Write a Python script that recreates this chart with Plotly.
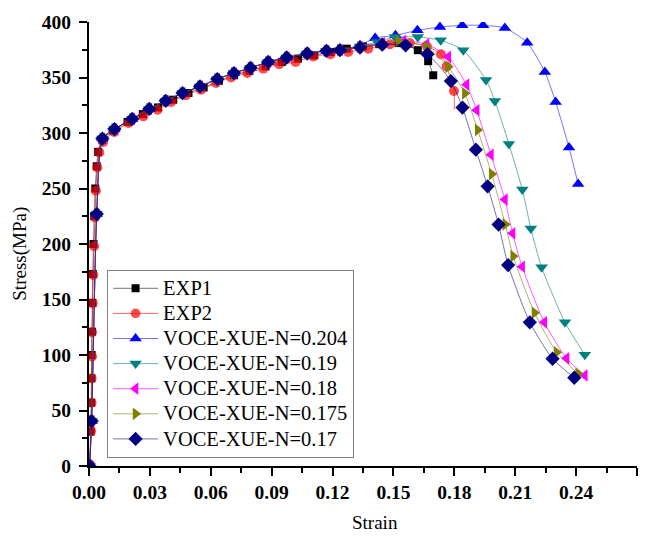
import plotly.graph_objects as go

# ---- experimental curves ----
exp1_strain = [0.0003, 0.0008, 0.0011, 0.0012, 0.0013, 0.0015, 0.0017, 0.0019, 0.0022, 0.0026,
               0.0031, 0.0038, 0.0045, 0.0065, 0.012, 0.019, 0.0265, 0.034, 0.0415, 0.049,
               0.0565, 0.064, 0.0715, 0.079, 0.087, 0.095, 0.103, 0.111, 0.119, 0.127,
               0.135, 0.143, 0.1525, 0.162, 0.1671, 0.1696]
exp1_stress = [0, 31, 57, 79, 100, 121, 147, 173, 200, 225,
               250, 270, 283, 294, 302, 310, 317, 323, 330, 336,
               341, 347, 352, 356, 360, 364, 367, 370, 373, 376,
               378, 380, 381, 374.6, 364.7, 352]

exp2_strain = [0.0005, 0.001, 0.0013, 0.0013, 0.0015, 0.0015, 0.0018, 0.0021, 0.0025, 0.0030,
               0.0034, 0.0041, 0.0051, 0.007, 0.0125, 0.0194, 0.0268, 0.0338, 0.0405, 0.0478,
               0.0552, 0.0626, 0.07, 0.078, 0.0859, 0.0937, 0.1018, 0.1105, 0.119, 0.1277,
               0.1376, 0.1483, 0.158, 0.1665, 0.1734, 0.1762, 0.1798, 0.1800]
exp2_stress = [1.5, 31.4, 57, 79, 98.6, 120.5, 146.5, 172, 198, 224,
               248, 269, 282.5, 292, 301, 309, 315, 321, 328, 334,
               339, 345, 350, 354, 358, 362, 364, 369, 371, 373,
               376, 380, 381, 378, 371, 360, 337.8, 321]

# ---- VOCE-XUE simulations: shared hardening branch ----
model_strain_common = [0.0003, 0.0013, 0.0038, 0.0066, 0.0125, 0.0213, 0.0297, 0.0378, 0.0461,
                       0.0547, 0.0632, 0.0714, 0.0796, 0.0883, 0.0974, 0.1075, 0.117, 0.1236]
model_stress_common = [0, 40.5, 227, 295, 303.5, 312.7, 321.7, 329, 336,
                       342, 348.6, 354, 358.7, 364, 368, 371.6, 374, 374.6]

# ---- softening branches for each N ----
n0204_strain = [0.1335, 0.141, 0.151, 0.1618, 0.1729, 0.1839, 0.1942, 0.2049, 0.2159, 0.2246,
                0.2299, 0.2365, 0.241]
n0204_stress = [379, 385.5, 388, 392.5, 395.5, 397, 397, 394.6, 381.4, 355,
                328, 287, 254]

n019_strain = [0.1335, 0.142, 0.1507, 0.162, 0.1733, 0.1844, 0.1956, 0.2, 0.2069, 0.2135,
               0.2177, 0.223, 0.2345, 0.2443]
n019_stress = [378, 382, 386.5, 386.5, 383.5, 374.6, 347.7, 328.9, 290, 249,
               214, 179, 129.4, 100.2]

n018_strain = [0.1335, 0.1445, 0.155, 0.1663, 0.177, 0.186, 0.191, 0.198, 0.2049, 0.2087,
               0.2134, 0.2243, 0.2353, 0.2443]
n018_stress = [377.5, 381, 383, 380, 368.6, 343.5, 320.5, 280.4, 240, 209.6,
               179.5, 129.4, 97, 81.6]

n0175_strain = [0.1335, 0.1445, 0.1524, 0.1663, 0.177, 0.1852, 0.1915, 0.1984, 0.2051, 0.209,
                0.2195, 0.2304, 0.241]
n0175_stress = [377.5, 380.5, 383, 377.6, 359.6, 335.7, 302.8, 263, 217.7, 189,
                138, 102.5, 83]

n017_strain = [0.1335, 0.1445, 0.156, 0.1668, 0.1783, 0.184, 0.1906, 0.1964, 0.2018, 0.2065,
               0.2172, 0.2284, 0.2391]
n017_stress = [377, 379.6, 379, 371, 346.8, 322.9, 285, 252, 217.5, 181,
               129.4, 96.6, 79.5]

series_names = ["EXP1", "EXP2", "VOCE-XUE-N=0.204", "VOCE-XUE-N=0.19",
                "VOCE-XUE-N=0.18", "VOCE-XUE-N=0.175", "VOCE-XUE-N=0.17"]

x_ticks = [0.00, 0.03, 0.06, 0.09, 0.12, 0.15, 0.18, 0.21, 0.24, 0.27]
y_ticks = [0, 50, 100, 150, 200, 250, 300, 350, 400]

SERIF = "Liberation Serif, Times New Roman, serif"

fig = go.Figure()


def add_series(name, xs, ys, marker_color, line_color, symbol, size, sizes=None):
    # legend rows are spaced by the legend font; the label itself is set a bit larger
    label = f'<span style="font-size:20.5px">{name}</span>'
    fig.add_trace(go.Scatter(
        x=xs, y=ys, name=label, mode="lines+markers",
        line=dict(color=line_color, width=1, shape="spline", smoothing=0.6),
        marker=dict(color=marker_color, symbol=symbol,
                    size=sizes if sizes is not None else size,
                    line=dict(width=0)),
    ))


add_series(series_names[0], exp1_strain, exp1_stress, "#000000", "rgba(0,0,0,0.55)", "square", 8)
# last EXP2 point only ends the line (no symbol)
exp2_sizes = [10] * (len(exp2_strain) - 1) + [0]
add_series(series_names[1], exp2_strain, exp2_stress, "#FF0000", "rgba(255,0,0,0.6)", "circle", 10,
           sizes=exp2_sizes)
add_series(series_names[2], model_strain_common + n0204_strain, model_stress_common + n0204_stress,
           "#0000FF", "rgba(0,0,255,0.55)", "triangle-up", 11)
add_series(series_names[3], model_strain_common + n019_strain, model_stress_common + n019_stress,
           "#008080", "rgba(0,128,128,0.6)", "triangle-down", 11)
add_series(series_names[4], model_strain_common + n018_strain, model_stress_common + n018_stress,
           "#FF00FF", "rgba(255,0,255,0.65)", "triangle-left", 11)
add_series(series_names[5], model_strain_common + n0175_strain, model_stress_common + n0175_stress,
           "#808000", "rgba(128,128,0,0.6)", "triangle-right", 11)
add_series(series_names[6], model_strain_common + n017_strain, model_stress_common + n017_stress,
           "#000080", "rgba(0,0,128,0.55)", "diamond", 11)

axis_common = dict(
    showline=True, linecolor="black", linewidth=2, mirror=False,
    ticks="outside", ticklen=8, tickwidth=2, tickcolor="black",
    showgrid=False, zeroline=False,
    tickfont=dict(family=SERIF, size=19.5, color="black", weight="bold"),
)

fig.update_xaxes(
    range=[0, 0.27], tickvals=x_ticks, ticktext=[f"{v:.2f}" for v in x_ticks],
    minor=dict(ticks="outside", ticklen=5, tickwidth=2, tickcolor="black", dtick=0.015, tick0=0),
    ticklabelstandoff=0,
    **axis_common,
)
fig.update_yaxes(
    range=[0, 400], tickvals=y_ticks, ticktext=[str(v) for v in y_ticks],
    minor=dict(ticks="outside", ticklen=5, tickwidth=2, tickcolor="black", dtick=25, tick0=0),
    ticklabelstandoff=4,
    **axis_common,
)

fig.update_layout(
    width=654, height=536,
    margin=dict(l=89, r=17, t=20, b=70),
    paper_bgcolor="white", plot_bgcolor="white",
    font=dict(family=SERIF, color="black"),
    legend=dict(
        x=0.033, y=0.442, xanchor="left", yanchor="top",
        bgcolor="white", bordercolor="#808080", borderwidth=1,
        font=dict(family=SERIF, size=17, color="black"),
        itemwidth=45, tracegroupgap=0,
    ),
    annotations=[
        dict(text="Stress(MPa)", xref="paper", yref="paper", x=-0.126, y=0.478,
             showarrow=False, textangle=-90, font=dict(family=SERIF, size=19),
             xanchor="center", yanchor="middle"),
        dict(text="Strain", xref="paper", yref="paper", x=0.522, y=-0.128,
             showarrow=False, font=dict(family=SERIF, size=19),
             xanchor="center", yanchor="middle"),
    ],
)

fig.write_html("out.html")
